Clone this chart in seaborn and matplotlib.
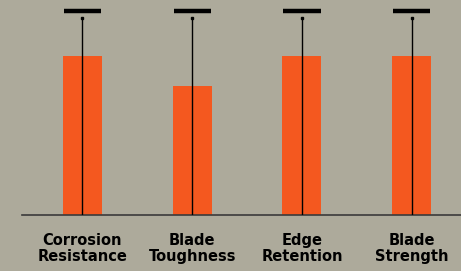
import matplotlib
matplotlib.use("Agg")
import matplotlib.pyplot as plt
import seaborn as sns
import pandas as pd
import numpy as np

categories = ["Corrosion\nResistance", "Blade\nToughness", "Edge\nRetention", "Blade\nStrength"]
scores = [4.04, 3.27, 4.04, 4.04]
err_top = [5.0, 5.0, 5.0, 5.0]
cap_level = [5.18, 5.18, 5.18, 5.18]

BG = "#adaa9b"
ORANGE = "#f4581f"

sns.set_theme(style="white")
plt.rcParams["font.family"] = ["DejaVu Sans"]

df = pd.DataFrame({"category": categories, "score": scores})

fig = plt.figure(figsize=(4.61, 2.71), dpi=100)
fig.patch.set_facecolor(BG)
ax = fig.add_axes([22 / 461, (271 - 215) / 271, 439 / 461, 215 / 271])
ax.set_facecolor(BG)

sns.barplot(data=df, x="category", y="score", color=ORANGE, width=0.356,
            saturation=1, ax=ax, edgecolor="none")

pos = np.arange(len(categories))
ax.vlines(pos, 0, err_top, color="black", linewidth=1.0, zorder=3)
ax.plot(pos, err_top, linestyle="none", marker="s", markersize=2.0, color="black", zorder=4)
ax.hlines(cap_level, pos - 0.17, pos + 0.17, color="black", linewidth=3.2, zorder=4)

ax.set_xlim(-0.551, 3.45)
ax.set_ylim(0, 5.457)
ax.set_xlabel("")
ax.set_ylabel("")
ax.set_yticks([])
for s in ["top", "right", "left"]:
    ax.spines[s].set_visible(False)
ax.spines["bottom"].set_color("#3a3a3a")
ax.spines["bottom"].set_linewidth(1.2)
ax.tick_params(axis="x", length=0, pad=13)
for lbl in ax.get_xticklabels():
    lbl.set_fontsize(10.5)
    lbl.set_fontweight("bold")
    lbl.set_color("black")
    lbl.set_linespacing(1.05)

fig.savefig("out.png", dpi=100, facecolor=BG)
